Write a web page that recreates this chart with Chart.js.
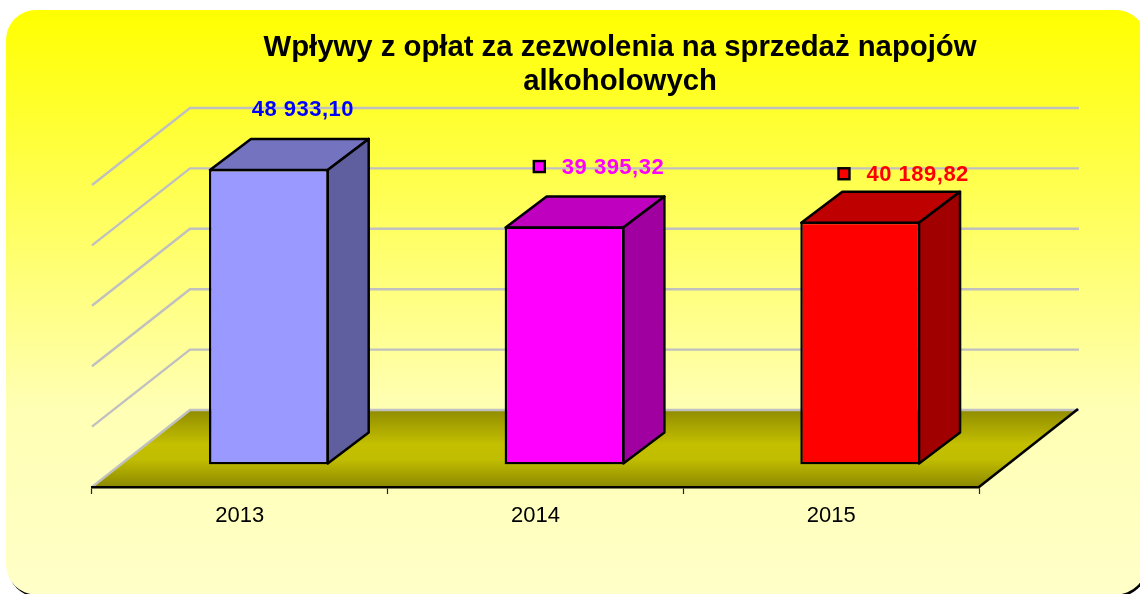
<!DOCTYPE html>
<html><head><meta charset="utf-8">
<style>html,body{margin:0;padding:0;background:#fff}#w{width:1140px;height:594px;position:relative}</style>
<script src="https://cdn.jsdelivr.net/npm/chart.js@4"></script></head>
<body><div id="w"><canvas id="c" width="1140" height="594"></canvas></div>
<script>
const titleLines = ['Wpływy z opłat za zezwolenia na sprzedaż napojów', 'alkoholowych'];
const categories = ['2013', '2014', '2015'];
const values = [48933.10, 39395.32, 40189.82];
const yTicksMax = 50000;
const frontColors = ['#9999FF', '#FF00FF', '#FF0000'];
const topColors = ['#7373BF', '#BF00BF', '#BF0000'];
const sideColors = ['#5F5F9F', '#A000A0', '#A00000'];
const labelColors = ['#0000FF', '#FF00FF', '#FF0000'];
const showKey = [false, true, true];

const FONT = '"Liberation Sans", Arial, sans-serif';
const WALL = {dx: 98, dy: -77}, BAR = {dx: 29, dy: -22.5}, DEPTH = {dx: 41, dy: -31};
const labelDx = [34, 48.5, 57.5], labelDy = [-59.5, -58.5, -46.5];

function fmt(v) {
  const [a, b] = v.toFixed(2).split('.');
  return a.replace(/\B(?=(\d{3})+$)/g, ' ') + ',' + b;
}
function rr(ctx, x, y, w, h, r) { ctx.beginPath(); ctx.roundRect(x, y, w, h, r); }

const scene = {
  id: 'scene',
  beforeDraw(chart) {
    const {ctx, chartArea: a, scales: {y}} = chart;
    ctx.save();
    // panel
    ctx.fillStyle = '#000';
    rr(ctx, 8, 13, 1139, 584, 30); ctx.fill();
    const g = ctx.createLinearGradient(0, 10, 0, 594);
    g.addColorStop(0, '#FFFF00'); g.addColorStop(0.68, '#FFFFB4'); g.addColorStop(1, '#FFFFC8');
    ctx.fillStyle = g;
    rr(ctx, 6, 10, 1140, 584.5, 30); ctx.fill();
    // floor
    const by = y.getPixelForValue(0);
    const fg = ctx.createLinearGradient(0, by + WALL.dy, 0, by);
    fg.addColorStop(0, '#908C00'); fg.addColorStop(0.45, '#C4C000'); fg.addColorStop(0.65, '#C0BC00'); fg.addColorStop(1, '#8C8800');
    ctx.fillStyle = fg;
    ctx.beginPath();
    ctx.moveTo(a.left, by); ctx.lineTo(a.left + WALL.dx, by + WALL.dy);
    ctx.lineTo(a.right + WALL.dx, by + WALL.dy); ctx.lineTo(a.right, by); ctx.closePath(); ctx.fill();
    // walls
    ctx.strokeStyle = '#C0C0C0'; ctx.lineWidth = 2.4;
    y.ticks.forEach(t => {
      const py = y.getPixelForValue(t.value);
      ctx.beginPath();
      ctx.moveTo(a.left, py);
      ctx.lineTo(a.left + WALL.dx, py + WALL.dy);
      ctx.lineTo(a.right + WALL.dx + 2, py + WALL.dy);
      ctx.stroke();
    });
    ctx.strokeStyle = '#000'; ctx.lineWidth = 2.6;
    ctx.beginPath(); ctx.moveTo(a.right, by); ctx.lineTo(a.right + WALL.dx + 1, by + WALL.dy - 1); ctx.stroke();
    // title
    ctx.fillStyle = '#000'; ctx.font = 'bold 29.3px ' + FONT; ctx.textAlign = 'center'; ctx.textBaseline = 'middle';
    titleLines.forEach((l, i) => ctx.fillText(l, 620, 48 + i * 34));
    ctx.restore();
  },
  beforeDatasetsDraw(chart) {
    const {ctx} = chart;
    const meta = chart.getDatasetMeta(0);
    ctx.save();
    ctx.translate(BAR.dx, BAR.dy);
    ctx.strokeStyle = '#000'; ctx.lineWidth = 2.5; ctx.lineJoin = 'round';
    meta.data.forEach((b, i) => {
      const l = b.x - b.width / 2 + 1, r = b.x + b.width / 2 - 1, t = b.y + 1, bt = b.base - 1;
      ctx.fillStyle = topColors[i];
      ctx.beginPath(); ctx.moveTo(l, t); ctx.lineTo(l + DEPTH.dx, t + DEPTH.dy); ctx.lineTo(r + DEPTH.dx, t + DEPTH.dy); ctx.lineTo(r, t); ctx.closePath(); ctx.fill(); ctx.stroke();
      ctx.fillStyle = sideColors[i];
      ctx.beginPath(); ctx.moveTo(r, t); ctx.lineTo(r + DEPTH.dx, t + DEPTH.dy); ctx.lineTo(r + DEPTH.dx, bt + DEPTH.dy); ctx.lineTo(r, bt); ctx.closePath(); ctx.fill(); ctx.stroke();
    });
    ctx.restore();
    ctx.save();
    ctx.translate(BAR.dx, BAR.dy);
  },
  afterDatasetsDraw(chart) {
    const {ctx} = chart;
    ctx.restore();
    ctx.save();
    chart.getDatasetMeta(0).data.forEach((b, i) => {
      const cx = b.x + BAR.dx + labelDx[i], cy = b.y + BAR.dy + labelDy[i];
      ctx.font = 'bold 22px ' + FONT; ctx.letterSpacing = '0.5px';
      ctx.textAlign = 'center'; ctx.textBaseline = 'middle';
      ctx.fillStyle = labelColors[i];
      const s = fmt(values[i]);
      ctx.fillText(s, cx, cy);
      if (showKey[i]) {
        const w = ctx.measureText(s).width;
        ctx.fillStyle = frontColors[i]; ctx.strokeStyle = '#000'; ctx.lineWidth = 2.4;
        ctx.fillRect(cx - w / 2 - 28, cy - 7, 11, 11); ctx.strokeRect(cx - w / 2 - 28, cy - 7, 11, 11);
      }
    });
    ctx.restore();
  }
};

new Chart(document.getElementById('c'), {
  type: 'bar',
  data: { labels: categories, datasets: [{ data: values, backgroundColor: frontColors, borderColor: '#000', borderWidth: 2.5, borderSkipped: false, barPercentage: 0.405, categoryPercentage: 1 }] },
  options: {
    responsive: false, animation: false, devicePixelRatio: 1,
    layout: { padding: { left: 92, right: 161, top: 185, bottom: 67 } },
    plugins: { legend: { display: false }, title: { display: false }, tooltip: { enabled: false } },
    scales: {
      x: {
        afterFit(s) { s.height = 40; },
        border: { color: '#000', width: 2.5 },
        grid: { offset: true, drawOnChartArea: false, drawTicks: true, tickLength: 7, color: '#222', tickWidth: 1.2 },
        ticks: { color: '#000', font: { family: FONT, size: 22 }, padding: 9, maxRotation: 0 }
      },
      y: { display: false, min: 0, max: yTicksMax, ticks: { stepSize: 10000 }, grid: { display: false } }
    }
  },
  plugins: [scene]
});
</script></body></html>
